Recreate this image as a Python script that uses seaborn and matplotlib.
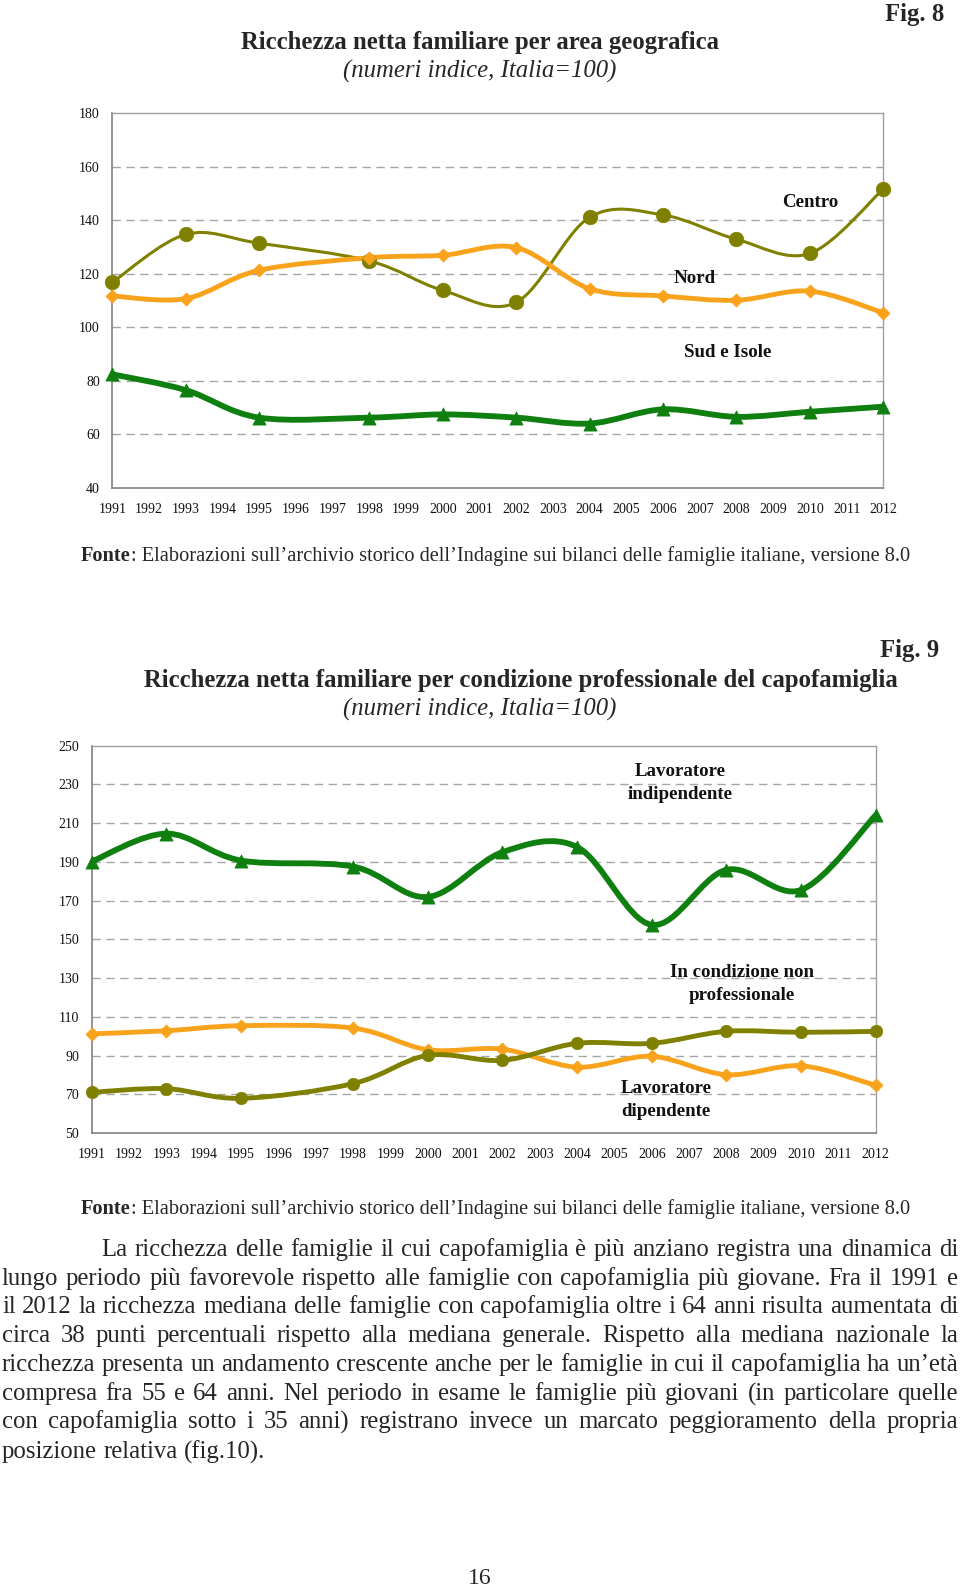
import numpy as np
import seaborn as sns
import matplotlib
matplotlib.use('Agg')
import matplotlib.pyplot as plt
from matplotlib.path import Path
from matplotlib.patches import PathPatch
from matplotlib.font_manager import FontProperties

# survey years (points) and tick years
years = [1991, 1993, 1995, 1998, 2000, 2002, 2004, 2006, 2008, 2010, 2012]
tick_years = list(range(1991, 2013))

# Fig. 8 - area geografica
centro = [116.8, 134.7, 131.4, 124.8, 113.8, 109.3, 141.1, 142.0, 132.9, 127.6, 151.7]
nord = [111.7, 110.7, 121.3, 126.0, 126.9, 129.8, 114.4, 111.7, 110.1, 113.5, 105.4]
sud = [82.4, 76.5, 66.2, 66.2, 67.4, 66.2, 64.0, 69.3, 66.5, 68.4, 70.3]

# Fig. 9 - condizione professionale
indipendente = [190.2, 204.6, 190.7, 187.6, 171.9, 195.0, 197.7, 157.5, 185.9, 175.5, 214.1]
dipendente = [101.2, 102.8, 105.4, 104.2, 93.0, 93.3, 84.0, 89.6, 80.1, 84.7, 74.6]
non_prof = [71.0, 72.9, 67.9, 75.5, 90.1, 87.5, 96.3, 96.3, 102.5, 102.0, 102.5]

OLIVE = '#808000'
ORANGE = '#f9a31c'
GREEN = '#0f7f0f'

fonte_txt = ': Elaborazioni sull\u2019archivio storico dell\u2019Indagine sui bilanci delle famiglie italiane, versione 8.0'
paragraph = [
    'La ricchezza delle famiglie il cui capofamiglia è più anziano registra una dinamica di',
    'lungo periodo più favorevole rispetto alle famiglie con capofamiglia più giovane. Fra il 1991 e',
    'il 2012 la ricchezza mediana delle famiglie con capofamiglia oltre i 64 anni risulta aumentata di',
    'circa 38 punti percentuali rispetto alla mediana generale. Rispetto alla mediana nazionale la',
    'ricchezza presenta un andamento crescente anche per le famiglie in cui il capofamiglia ha un\u2019età',
    'compresa fra 55 e 64 anni. Nel periodo in esame le famiglie più giovani (in particolare quelle',
    'con capofamiglia sotto i 35 anni) registrano invece un marcato peggioramento della propria',
    'posizione relativa (fig.10).',
]

sns.set_style('white')
plt.rcParams['font.family'] = ['Liberation Serif', 'DejaVu Serif']

W, H = 960, 1587
fig = plt.figure(figsize=(W / 100, H / 100), dpi=100)
rend = fig.canvas.get_renderer()


def fy(y):
    return 1 - y / H


def smooth_path(x, y):
    pts = np.column_stack([x, y]).astype(float)
    n = len(pts)
    verts = [pts[0]]
    codes = [Path.MOVETO]
    for i in range(n - 1):
        p0 = pts[max(i - 1, 0)]
        p1 = pts[i]
        p2 = pts[i + 1]
        p3 = pts[min(i + 2, n - 1)]
        verts += [p1 + (p2 - p0) / 6, p2 - (p3 - p1) / 6, p2]
        codes += [Path.CURVE4] * 3
    return Path(verts, codes)


def draw_series(ax, vals, color, lw, marker, size):
    ax.add_patch(PathPatch(smooth_path(years, vals), fill=False, edgecolor=color,
                           lw=lw, capstyle='round', joinstyle='round', zorder=3))
    sns.scatterplot(x=years, y=vals, ax=ax, color=color, marker=marker, s=size,
                    edgecolor=color, linewidth=0.5, zorder=4, clip_on=False, legend=False)


def style_axes(ax, ylo, yhi, step):
    ax.set_xlim(1991, 2012)
    ax.set_ylim(ylo, yhi)
    ax.set_xticks(tick_years)
    ax.set_xticklabels([str(t) for t in tick_years], fontsize=10)
    yt = list(range(ylo, yhi + 1, step))
    ax.set_yticks(yt)
    ax.set_yticklabels([str(t) for t in yt], fontsize=10)
    for v in yt[1:-1]:
        ax.axhline(v, color='#a6a6a6', lw=1, ls=(0, (6, 4)), zorder=1)
    for s in ['left', 'bottom']:
        ax.spines[s].set_color('#808080')
        ax.spines[s].set_linewidth(1.2)
    for s in ['top', 'right']:
        ax.spines[s].set_color('#a0a0a0')
        ax.spines[s].set_linewidth(1.0)
    ax.tick_params(axis='both', direction='out', length=4, width=1, color='#808080',
                   labelcolor='#111111', pad=5)
    ax.tick_params(axis='x', pad=7)


def runs(parts, x, y, fs):
    # draw consecutive text runs starting at pixel x
    for txt, weight in parts:
        t = fig.text(x / W, fy(y), txt, fontsize=fs, weight=weight, va='center', ha='left')
        x += t.get_window_extent(rend).width


def justified(line, x0, x1, y, fs, justify=True):
    words = line.split(' ')
    prop = FontProperties(family=plt.rcParams['font.family'], size=fs)
    d_lp = rend.get_text_width_height_descent('lp', prop, ismath=False)[2]
    texts = []
    for w in words:
        d_w = rend.get_text_width_height_descent(w, prop, ismath=False)[2]
        # words deeper than 'lp' (parentheses) get lifted; push them back down
        texts.append(fig.text(0, fy(y + max(0.0, d_w - d_lp)), w, fontsize=fs,
                              va='baseline', ha='left'))
    widths = [t.get_window_extent(rend).width for t in texts]
    if justify and len(words) > 1:
        gap = (x1 - x0 - sum(widths)) / (len(words) - 1)
    else:
        sp = fig.text(0, 0, 'a a', fontsize=fs)
        sa = fig.text(0, 0, 'aa', fontsize=fs)
        gap = sp.get_window_extent(rend).width - sa.get_window_extent(rend).width
        sp.remove()
        sa.remove()
    x = x0
    for t, w in zip(texts, widths):
        t.set_x(x / W)
        x += w + gap


# ---------------- Fig. 8 ----------------
ax1 = fig.add_axes([112.3 / W, fy(487.7), (883.3 - 112.3) / W, (487.7 - 113.3) / H])
style_axes(ax1, 40, 180, 20)
draw_series(ax1, centro, OLIVE, 2.2, 'o', 110)
draw_series(ax1, nord, ORANGE, 3.5, 'D', 45)
draw_series(ax1, sud, GREEN, 4.2, '^', 90)
lab = dict(fontsize=13.6, weight='bold', ha='center', va='center', color='#111111')
ax1.text(2010.0, 146.8, 'Centro', **lab)
ax1.text(2006.85, 118.4, 'Nord', **lab)
ax1.text(2007.77, 90.7, 'Sud e Isole', **lab)

fig.text(944 / W, fy(14), 'Fig. 8', fontsize=17.8, weight='bold', ha='right', va='center')
fig.text(480 / W, fy(43), 'Ricchezza netta familiare per area geografica', fontsize=17.8,
         weight='bold', ha='center', va='center')
fig.text(480 / W, fy(71), '(numeri indice, Italia=100)', fontsize=17.8, style='italic',
         ha='center', va='center')
runs([('Fonte', 'bold'), (fonte_txt, 'normal')], 81, 556, 14.7)

# ---------------- Fig. 9 ----------------
ax2 = fig.add_axes([91.7 / W, fy(1133), (875.7 - 91.7) / W, (1133 - 745.7) / H])
style_axes(ax2, 50, 250, 20)
draw_series(ax2, indipendente, GREEN, 4.2, '^', 90)
draw_series(ax2, dipendente, ORANGE, 3.5, 'D', 45)
draw_series(ax2, non_prof, OLIVE, 3.5, 'o', 80)
ax2.text(2006.76, 230.7, 'Lavoratore\nindipendente', linespacing=1.45, **lab)
ax2.text(2008.42, 126.9, 'In condizione non\nprofessionale', linespacing=1.45, **lab)
ax2.text(2006.38, 67.0, 'Lavoratore\ndipendente', linespacing=1.45, **lab)

fig.text(939 / W, fy(650), 'Fig. 9', fontsize=17.8, weight='bold', ha='right', va='center')
fig.text(521 / W, fy(680), 'Ricchezza netta familiare per condizione professionale del capofamiglia',
         fontsize=17.8, weight='bold', ha='center', va='center')
fig.text(480 / W, fy(709), '(numeri indice, Italia=100)', fontsize=17.8, style='italic',
         ha='center', va='center')
runs([('Fonte', 'bold'), (fonte_txt, 'normal')], 81, 1209, 14.7)

# ---------------- paragraph ----------------
line_base = [1256, 1285, 1313, 1342, 1371, 1400, 1428, 1458]
for i, (line, y) in enumerate(zip(paragraph, line_base)):
    x0 = 101 if i == 0 else 2
    justified(line, x0, 958, y, 17.8, justify=(i < len(paragraph) - 1))

fig.text(480 / W, fy(1578), '16', fontsize=17, ha='center', va='center')

fig.savefig('out.png', dpi=100)
